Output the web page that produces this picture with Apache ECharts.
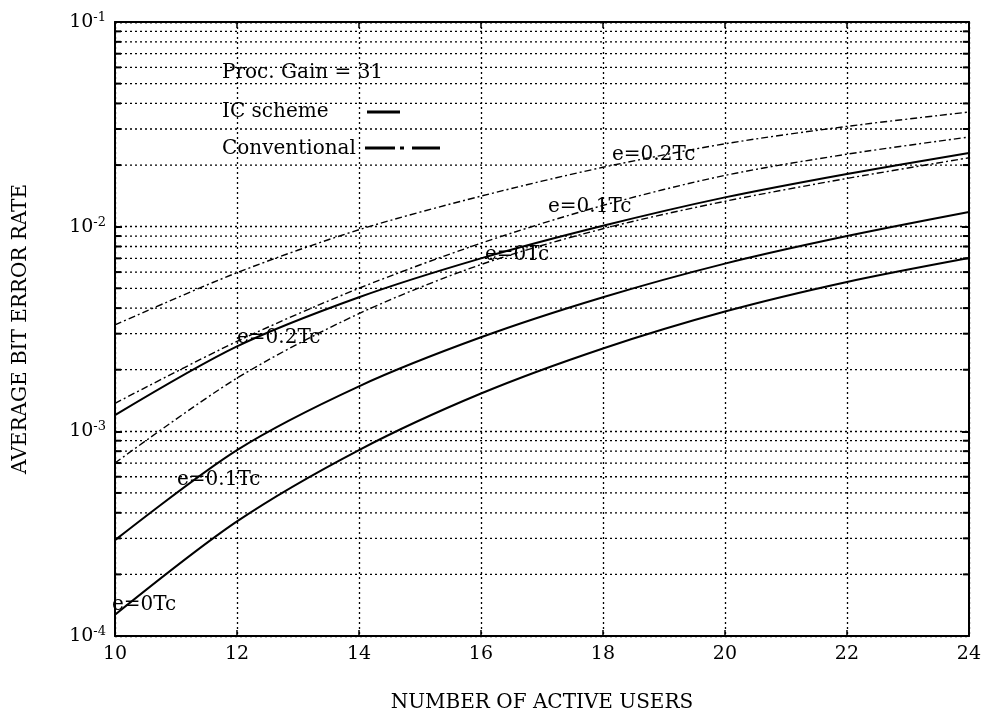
<!DOCTYPE html>
<html>
<head>
<meta charset="utf-8">
<script src="https://cdn.jsdelivr.net/npm/echarts@6/dist/echarts.min.js"></script>
<style>
  html, body { margin: 0; padding: 0; background: #fff; }
  #chart { width: 984px; height: 718px; }
</style>
</head>
<body>
<div id="chart"></div>
<script>
// number of active users
const users = [10, 12, 14, 16, 18, 20, 22, 24];

// IC scheme (solid)
const ic0 = [1.27e-4, 3.63e-4, 8.1e-4, 1.53e-3, 2.54e-3, 3.85e-3, 5.37e-3, 7.03e-3];
const ic01 = [2.94e-4, 8.1e-4, 1.66e-3, 2.88e-3, 4.52e-3, 6.6e-3, 9.0e-3, 1.18e-2];
const ic02 = [1.2e-3, 2.6e-3, 4.52e-3, 7.0e-3, 1.01e-2, 1.39e-2, 1.81e-2, 2.29e-2];

// conventional (dash-dot)
const conv0 = [7.0e-4, 1.82e-3, 3.76e-3, 6.53e-3, 9.77e-3, 1.33e-2, 1.72e-2, 2.17e-2];
const conv01 = [1.37e-3, 2.75e-3, 5.0e-3, 8.3e-3, 1.27e-2, 1.78e-2, 2.26e-2, 2.74e-2];
const conv02 = [3.31e-3, 5.96e-3, 9.66e-3, 1.41e-2, 1.95e-2, 2.54e-2, 3.09e-2, 3.63e-2];

// minor horizontal grid lines (2..9 x decade)
const minorLevels = [
  2e-4, 3e-4, 4e-4, 5e-4, 6e-4, 7e-4, 8e-4, 9e-4,
  2e-3, 3e-3, 4e-3, 5e-3, 6e-3, 7e-3, 8e-3, 9e-3,
  2e-2, 3e-2, 4e-2, 5e-2, 6e-2, 7e-2, 8e-2, 9e-2
];

const FONT = '"DejaVu Serif", "Liberation Serif", serif';
const INK = '#000';

const pair = (ys) => users.map((u, i) => [u, ys[i]]);

const solid = { color: INK, width: 2, type: 'solid' };
const dashDot = { color: INK, width: 1.4, type: [7, 3, 2, 3] };

const lineSeries = (name, ys, style) => ({
  name: name,
  type: 'line',
  data: pair(ys),
  smooth: 0.3,
  symbol: 'none',
  lineStyle: style,
  z: 5
});

// 曲线旁的文字标注
const note = (text, x, y) => ({
  type: 'text', x: x, y: y,
  style: { text: text, font: '20px ' + FONT, fill: INK, verticalAlign: 'middle' }
});

const myChart = echarts.init(document.getElementById('chart'));

const option = {
  backgroundColor: '#fff',
  animation: false,
  grid: { left: 115, right: 8, top: 22, bottom: 82, show: false },
  xAxis: [
    {
      type: 'value', min: 10, max: 24, interval: 2,
      name: 'NUMBER OF ACTIVE USERS',
      nameLocation: 'middle', nameGap: 57,
      nameTextStyle: { fontFamily: FONT, fontSize: 20, color: INK },
      axisLine: { show: true, lineStyle: { color: INK, width: 2 } },
      axisTick: { show: true, inside: true, length: 6, lineStyle: { color: INK, width: 1.5 } },
      axisLabel: { fontFamily: FONT, fontSize: 19, color: INK, margin: 9 },
      splitLine: { show: true, lineStyle: { color: INK, width: 1.3, type: [2, 3] } }
    },
    {
      type: 'value', min: 10, max: 24, interval: 2, position: 'top',
      axisLine: { show: true, lineStyle: { color: INK, width: 2 } },
      axisTick: { show: true, inside: true, length: 6, lineStyle: { color: INK, width: 1.5 } },
      axisLabel: { show: false },
      splitLine: { show: false }
    }
  ],
  yAxis: [
    {
      type: 'log', logBase: 10, min: 1e-4, max: 1e-1,
      name: 'AVERAGE BIT ERROR RATE',
      nameLocation: 'middle', nameGap: 84, nameRotate: 90,
      nameTextStyle: { fontFamily: FONT, fontSize: 20, color: INK },
      axisLine: { show: true, lineStyle: { color: INK, width: 2 } },
      axisTick: { show: true, inside: true, length: 7, lineStyle: { color: INK, width: 2 } },
      axisLabel: {
        margin: 9,
        formatter: (v) => '{b|10}{s|' + Math.round(Math.log10(v)) + '}',
        rich: {
          b: { fontFamily: FONT, fontSize: 19, color: INK, lineHeight: 22 },
          s: { fontFamily: FONT, fontSize: 13, color: INK, verticalAlign: 'top' }
        }
      },
      splitLine: { show: true, lineStyle: { color: INK, width: 1.3, type: [2, 3] } }
    },
    {
      type: 'log', logBase: 10, min: 1e-4, max: 1e-1, position: 'right',
      axisLine: { show: true, lineStyle: { color: INK, width: 2 } },
      axisTick: { show: true, inside: true, length: 7, lineStyle: { color: INK, width: 2 } },
      axisLabel: { show: false },
      splitLine: { show: false }
    }
  ],
  graphic: [
    note('Proc. Gain = 31', 222, 73),
    note('IC scheme', 222, 112),
    { type: 'line', shape: { x1: 367, y1: 112, x2: 400, y2: 112 }, style: { stroke: INK, lineWidth: 3 } },
    note('Conventional', 222, 149),
    { type: 'line', shape: { x1: 365, y1: 148, x2: 440, y2: 148 }, style: { stroke: INK, lineWidth: 3, lineDash: [30, 5, 4, 8] } },

    note('e=0.2Tc', 612, 155),
    note('e=0.1Tc', 548, 207),
    note('e=0Tc', 485, 255),
    note('e=0.2Tc', 237, 338),
    note('e=0.1Tc', 177, 480),
    note('e=0Tc', 112, 605)
  ],
  series: [
    // 次网格线和左右两侧的短刻度
    {
      type: 'custom',
      silent: true,
      data: minorLevels.map(v => [v]),
      renderItem: function(params, api) {
        const v = api.value(0);
        const a = api.coord([10, v]);
        const b = api.coord([24, v]);
        return {
          type: 'group',
          children: [
            { type: 'line', shape: { x1: a[0], y1: a[1], x2: b[0], y2: b[1] },
              style: { stroke: INK, lineWidth: 1.3, lineDash: [2, 3] } },
            { type: 'line', shape: { x1: a[0], y1: a[1], x2: a[0] + 6, y2: a[1] },
              style: { stroke: INK, lineWidth: 2 } },
            { type: 'line', shape: { x1: b[0] - 6, y1: b[1], x2: b[0], y2: b[1] },
              style: { stroke: INK, lineWidth: 2 } }
          ]
        };
      },
      z: 2
    },
    lineSeries('IC e=0Tc', ic0, solid),
    lineSeries('IC e=0.1Tc', ic01, solid),
    lineSeries('IC e=0.2Tc', ic02, solid),
    lineSeries('Conv e=0Tc', conv0, dashDot),
    lineSeries('Conv e=0.1Tc', conv01, dashDot),
    lineSeries('Conv e=0.2Tc', conv02, dashDot)
  ]
};

myChart.setOption(option);

window.addEventListener('resize', () => {
  myChart.resize();
});
</script>
</body>
</html>
